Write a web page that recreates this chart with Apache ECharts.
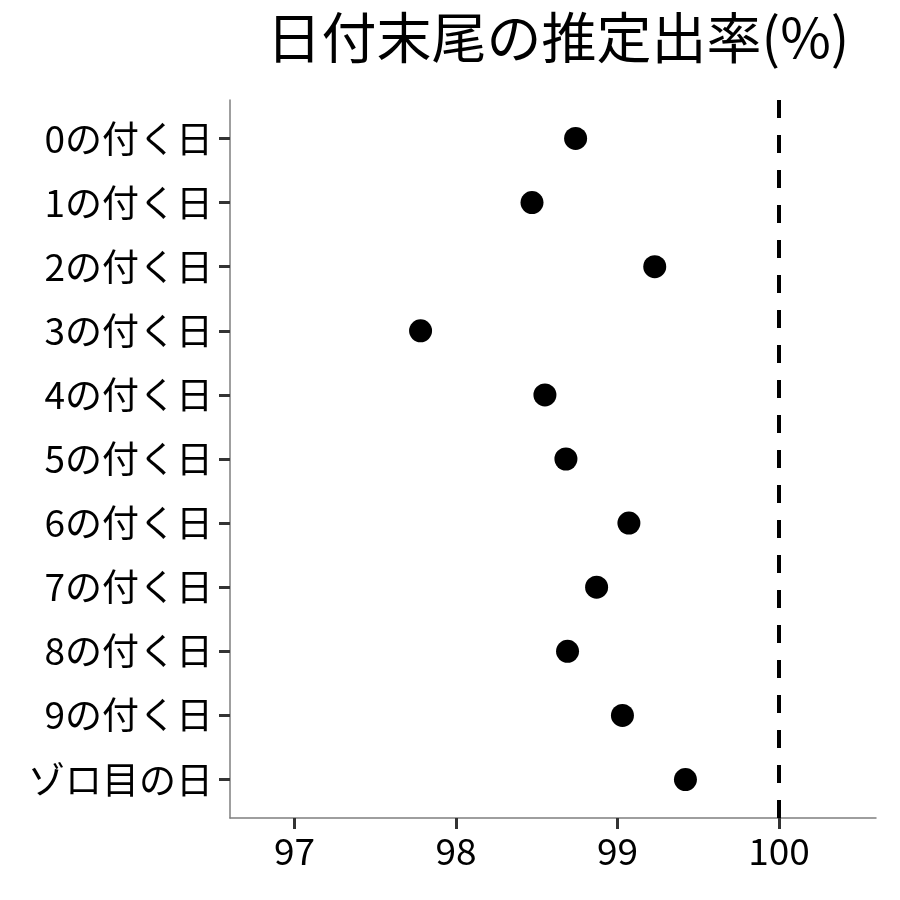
<!DOCTYPE html>
<html>
<head>
<meta charset="utf-8">
<script src="https://cdn.jsdelivr.net/npm/echarts@6/dist/echarts.min.js"></script>
<style>
  html, body { margin: 0; padding: 0; background: #fff; }
  #chartMain { width: 900px; height: 900px; }
</style>
</head>
<body>
<div id="chartMain"></div>
<script>
// データ
var categories = ['0の付く日', '1の付く日', '2の付く日', '3の付く日', '4の付く日', '5の付く日',
                  '6の付く日', '7の付く日', '8の付く日', '9の付く日', 'ゾロ目の日'];
var rates = [98.74, 98.47, 99.23, 97.78, 98.55, 98.68, 99.07, 98.87, 98.69, 99.03, 99.42];
var xTicks = [97, 98, 99, 100];
var refLine = 100;
var titleText = '日付末尾の推定出率(%)';

var font = '"Noto Sans CJK JP", "Noto Sans", sans-serif';

var myChart = echarts.init(document.getElementById('chartMain'));

var points = [];
for (var i = 0; i < rates.length; i++) {
    points.push([rates[i], i]);
}
var yIdx = categories.map(function (c, i) { return i; });

var option = {
    backgroundColor: '#fff',
    animation: false,
    title: {
        text: titleText,
        left: 553,
        top: 5,
        textAlign: 'center',
        textStyle: { fontFamily: font, fontSize: 55, fontWeight: 'normal', color: '#000' }
    },
    grid: { left: 230, right: 24, top: 100, bottom: 82 },
    xAxis: {
        type: 'value',
        min: 96.6,
        max: 100.6,
        splitLine: { show: false },
        axisLine: { show: true, onZero: false, lineStyle: { color: '#7f7f7f', width: 1.5 } },
        axisTick: { show: true, inside: false, customValues: xTicks, length: 11, lineStyle: { color: '#333', width: 3 } },
        axisLabel: {
            customValues: xTicks, margin: 14,
            fontFamily: font, fontSize: 37, color: '#000'
        }
    },
    yAxis: {
        type: 'value',
        inverse: true,
        min: -0.6,
        max: 10.6,
        splitLine: { show: false },
        axisLine: { show: true, onZero: false, lineStyle: { color: '#7f7f7f', width: 1.5 } },
        axisTick: { show: true, inside: false, customValues: yIdx, length: 11, lineStyle: { color: '#333', width: 3 } },
        axisLabel: {
            customValues: yIdx, margin: 17,
            fontFamily: font, fontSize: 37, color: '#000',
            formatter: function (v) { return categories[Math.round(v)]; }
        }
    },
    series: [{
        type: 'scatter',
        data: points,
        symbol: 'circle',
        symbolSize: 23,
        itemStyle: { color: '#000', opacity: 1 },
        markLine: {
            silent: true,
            symbol: 'none',
            label: { show: false },
            lineStyle: { color: '#000', width: 4, type: [18, 17] },
            data: [{ xAxis: refLine }]
        }
    }]
};

myChart.setOption(option, true);
</script>
</body>
</html>
